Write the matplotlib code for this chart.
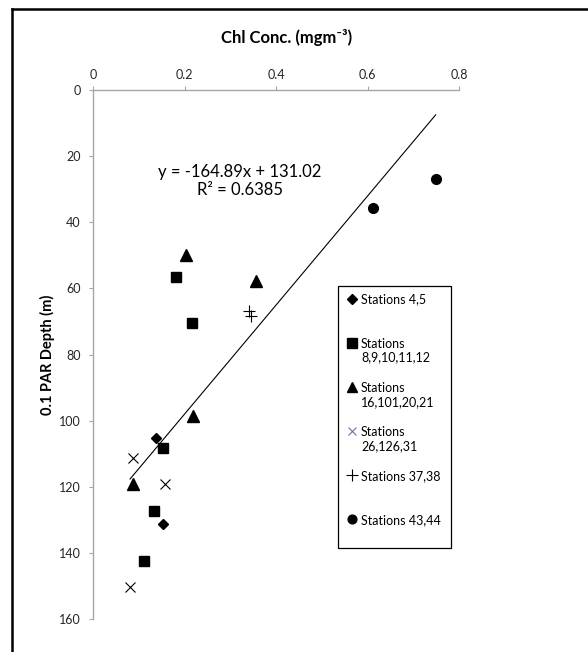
import matplotlib
matplotlib.use('Agg')
import numpy as np
import matplotlib.pyplot as plt
from matplotlib.lines import Line2D

plt.rcParams['font.family'] = ['Lato', 'DejaVu Sans']

# Chl concentration (x) vs 0.1 PAR depth (y)
st45_x = [0.137, 0.152]
st45_y = [105.4, 131.2]
st8_12_x = [0.181, 0.216, 0.153, 0.133, 0.112]
st8_12_y = [56.7, 70.6, 108.4, 127.3, 142.4]
st16_21_x = [0.203, 0.356, 0.219, 0.088]
st16_21_y = [49.8, 57.8, 98.6, 119.3]
st26_31_x = [0.087, 0.157, 0.081]
st26_31_y = [111.4, 119.3, 150.2]
st37_38_x = [0.342, 0.345]
st37_38_y = [66.8, 68.4]
st43_44_x = [0.611, 0.749]
st43_44_y = [35.8, 26.9]

# linear trendline as reported on the chart
slope = -164.89
intercept = 131.02
r2 = 0.6385

x_ticks = [0, 0.2, 0.4, 0.6, 0.8]
y_ticks = [0, 20, 40, 60, 80, 100, 120, 140, 160]

fig = plt.figure(figsize=(5.88, 6.52), dpi=100)
W, H = 588, 652
ax = fig.add_axes([93 / W, 1 - 619 / H, 366 / W, 529 / H])

k = dict(linestyle='none', color='black')
ax.plot(st45_x, st45_y, marker='D', ms=5.6, label='Stations 4,5\n ', **k)
ax.plot(st8_12_x, st8_12_y, marker='s', ms=7.4, label='Stations\n8,9,10,11,12', **k)
ax.plot(st16_21_x, st16_21_y, marker='^', ms=8, label='Stations\n16,101,20,21', **k)
ax.plot(st26_31_x, st26_31_y, marker='x', ms=7, mew=0.8, label='Stations\n26,126,31', **k)
ax.plot(st37_38_x, st37_38_y, marker='+', ms=9, mew=0.8, label='Stations 37,38\n ', **k)
ax.plot(st43_44_x, st43_44_y, marker='o', ms=7, label='Stations 43,44\n ', **k)

# trendline over the range of the data
all_x = st45_x + st8_12_x + st16_21_x + st26_31_x + st37_38_x + st43_44_x
tx = np.array([min(all_x), max(all_x)])
ax.plot(tx, slope * tx + intercept, color='black', lw=0.8)

ax.text(0.321, 24.8, f'y = {slope}x + {intercept}', fontsize=12,
        ha='center', va='center')
ax.text(0.321, 30.3, f'R² = {r2}', fontsize=12, ha='center', va='center')

ax.set_xlim(0, 0.8)
ax.set_ylim(160, 0)
ax.set_xticks(x_ticks)
ax.set_xticklabels([f'{v:g}' for v in x_ticks])
ax.set_yticks(y_ticks)
ax.xaxis.tick_top()
for s in ['right', 'bottom']:
    ax.spines[s].set_visible(False)
for s in ['top', 'left']:
    ax.spines[s].set_color('#a6a6a6')
    ax.spines[s].set_linewidth(1.0)
ax.tick_params(axis='both', direction='out', length=3, width=0.8,
               color='#a6a6a6', labelsize=9, labelcolor='#262626')
ax.tick_params(axis='x', pad=3.5)
ax.tick_params(axis='y', pad=6)

leg = ax.legend(loc='upper left', bbox_to_anchor=(0.669, 0.136, 0.309, 0.4935),
                mode='expand', fontsize=9, numpoints=1, frameon=True,
                fancybox=False, framealpha=1, edgecolor='black',
                borderpad=0.6, labelspacing=1.45, handlelength=1.1,
                handletextpad=0.15, handleheight=1.2, borderaxespad=0,
                markerscale=0.9)
leg.get_frame().set_linewidth(0.9)
for t in leg.get_texts():
    t.set_linespacing(1.2)
leg.legend_handles[3].set_color('#7a6aa6')
for col in leg._legend_handle_box.get_children():
    for row in col.get_children():
        row.align = 'top'

fig.text(287 / W, 1 - 37 / H, 'Chl Conc. (mgm⁻³)', fontsize=12,
         fontweight='bold', ha='center', va='center')
fig.text(47 / W, 1 - 355 / H, '0.1 PAR Depth (m)', fontsize=10.5,
         fontweight='bold', ha='center', va='center', rotation=90)

# outer chart frame (clipped on the right and bottom)
fig.add_artist(Line2D([12 / W, 12 / W], [0, 1 - 9 / H], color='black', lw=1.8))
fig.add_artist(Line2D([12 / W, 1], [1 - 9 / H, 1 - 9 / H], color='black', lw=1.8))

fig.savefig('out.png', dpi=100, facecolor='white')
